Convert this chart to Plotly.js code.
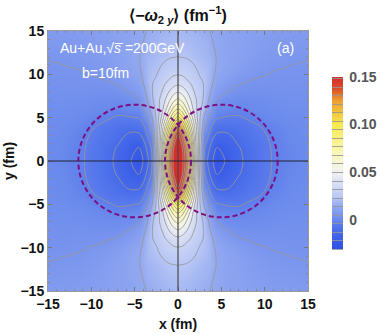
<!DOCTYPE html>
<html>
<head>
<meta charset="utf-8">
<script src="https://cdn.plot.ly/plotly-3.0.1.min.js"></script>
<style>html,body{margin:0;padding:0;background:#fff}</style>
</head>
<body>
<div id="chart" style="width:382px;height:335px"></div>
<script>
//Grid, upper right quadrant (the plot is mirrored in x and y)
var xPos = [0, 0.5, 1, 1.5, 2, 2.5, 3, 3.5, 4, 4.5, 5.5, 7, 9, 11, 13, 15];
var yPos = [0, 1.5, 3, 4, 5, 6, 7, 8, 9, 10, 11, 12, 13.5, 15];
var zQuad = [
  [.157, .152, .132, .105, .06, .02, -.004, -.015, -.0215, -.0265, -.0215, -.0145, -.0085, -.0035, -.001, 0],
  [.155, .149, .125, .095, .055, .022, -.0025, -.011, -.017, -.0225, -.0195, -.0135, -.008, -.0033, -.0005, .0005],
  [.152, .134, .105, .08, .05, .024, .002, -.003, -.011, -.0145, -.0145, -.0105, -.0065, -.0025, 0, .001],
  [.128, .11, .09, .068, .046, .024, .0085, .001, -.0055, -.0085, -.0095, -.0085, -.0048, -.0015, .0005, .0012],
  [.099, .088, .073, .056, .039, .024, .0135, .0055, .0005, -.0035, -.0045, -.0048, -.002, 0, .001, .0015],
  [.077, .071, .059, .046, .035, .0255, .0185, .0105, .0045, .0005, -.0005, -.0015, 0, .001, .002, .002],
  [.062, .057, .049, .041, .034, .027, .0215, .0145, .0085, .005, .002, .001, .0012, .002, .0025, .0025],
  [.049, .0465, .0415, .036, .0305, .027, .0225, .017, .011, .0085, .0055, .003, .0025, .003, .003, .003],
  [.0385, .037, .034, .0315, .028, .025, .0225, .019, .014, .0108, .0085, .0055, .004, .0038, .0035, .0035],
  [.0315, .031, .0295, .0275, .0255, .0225, .0215, .0195, .015, .0128, .0108, .008, .0058, .0047, .004, .004],
  [.027, .0265, .0255, .0245, .0228, .0212, .0202, .019, .0155, .0135, .0118, .0095, .007, .0056, .005, .0045],
  [.0231, .0228, .0225, .0215, .0205, .0195, .0185, .0175, .0155, .0136, .012, .0102, .008, .0065, .0058, .0053],
  [.021, .0205, .02, .0195, .0185, .0178, .0172, .0165, .0142, .013, .012, .0108, .009, .0075, .0068, .0065],
  [.0187, .0185, .018, .0175, .017, .016, .0155, .0145, .0132, .0125, .0115, .0105, .0095, .0085, .0078, .0075]
];
var barTicks = [0, 0.05, 0.10, 0.15];
var barLabels = ["0", "0.05", "0.10", "0.15"];
var axisTicks = [-15, -10, -5, 0, 5, 10, 15];
var axisLabels = ["\u221215", "\u221210", "\u22125", "0", "5", "10", "15"];

function mirrorPos(a){
  return a.slice(1).reverse().map(function(v){ return -v; }).concat(a);
}
function mirrorRows(a){
  return a.slice(1).reverse().concat(a);
}
var xAll = mirrorPos(xPos);
var yAll = mirrorPos(yPos);
var zAll = mirrorRows(zQuad.map(mirrorRows));

var bold = {family: "Liberation Sans", size: 14, color: "#111", weight: 700};

var trace = {
  type: "contour",
  x: xAll,
  y: yAll,
  z: zAll,
  zauto: false,
  zmin: -0.031,
  zmax: 0.15,
  colorscale: [
    [0, "#2f50e8"],
    [0.05, "#3a5ce8"],
    [0.099, "#466aea"],
    [0.149, "#5c7cec"],
    [0.171, "#6a8aec"],
    [0.199, "#7a95ee"],
    [0.249, "#93a9f0"],
    [0.298, "#b8c6f5"],
    [0.448, "#f2f2f2"],
    [0.558, "#fbf7b8"],
    [0.724, "#f8e94f"],
    [0.862, "#eba033"],
    [0.934, "#dc4a2a"],
    [1, "#d62c2a"]
  ],
  contours: {coloring: "heatmap", start: -0.031, end: 0.149, size: 0.009},
  line: {color: "rgba(150,150,150,0.85)", width: 1, smoothing: 1},
  hoverinfo: "skip",
  colorbar: {
    x: 1.092, xanchor: "left", xpad: 0,
    y: 0.492, yanchor: "middle", ypad: 0,
    thickness: 11, thicknessmode: "pixels",
    len: 172, lenmode: "pixels",
    outlinewidth: 0,
    tickmode: "array", tickvals: barTicks, ticktext: barLabels,
    ticks: "outside", ticklen: 4, tickcolor: "rgba(0,0,0,0)",
    tickfont: {family: "Liberation Sans", size: 14, color: "#555", weight: 700}
  }
};

var layout = {
  width: 382,
  height: 335,
  margin: {l: 48, r: 74, t: 31, b: 44, autoexpand: false},
  paper_bgcolor: "#fff",
  showlegend: false,
  title: {
    text: "<b>\u27e8\u2212<i>\u03c9</i><sub>2 <i>y</i></sub>\u27e9 (fm<sup>\u22121</sup>)</b>",
    font: {family: "Liberation Sans", size: 16, color: "#111"},
    x: 178 / 382, xanchor: "center", y: 0.955, yanchor: "middle"
  },
  xaxis: {
    range: [-15, 15],
    tickmode: "array", tickvals: axisTicks, ticktext: axisLabels,
    ticks: "inside", ticklen: 4, tickcolor: "#777", tickwidth: 1,
    minor: {dtick: 1, ticks: "inside", ticklen: 2, tickcolor: "#888", showgrid: false},
    showgrid: false, zeroline: false,
    showline: true, linecolor: "#999", linewidth: 1, mirror: "allticks",
    tickfont: bold,
    title: {text: "<b>x (fm)</b>", font: bold, standoff: 8}
  },
  yaxis: {
    range: [-15, 15],
    tickmode: "array", tickvals: axisTicks, ticktext: axisLabels,
    ticks: "inside", ticklen: 4, tickcolor: "#777", tickwidth: 1,
    minor: {dtick: 1, ticks: "inside", ticklen: 2, tickcolor: "#888", showgrid: false},
    showgrid: false, zeroline: false,
    showline: true, linecolor: "#999", linewidth: 1, mirror: "allticks",
    tickfont: bold,
    title: {text: "<b>y (fm)</b>", font: bold, standoff: 2}
  },
  shapes: [
    {type: "line", xref: "x", yref: "y", x0: 0, x1: 0, y0: -15, y1: 15, line: {color: "rgba(70,70,70,0.6)", width: 2}},
    {type: "line", xref: "x", yref: "y", x0: -15, x1: 15, y0: 0, y1: 0, line: {color: "#223", width: 1}},
    {type: "circle", xref: "x", yref: "y", x0: -11.5, x1: 1.5, y0: -6.5, y1: 6.5, line: {color: "#7f0f80", width: 2, dash: "5px,3px"}},
    {type: "circle", xref: "x", yref: "y", x0: -1.5, x1: 11.5, y0: -6.5, y1: 6.5, line: {color: "#7f0f80", width: 2, dash: "5px,3px"}}
  ],
  annotations: [
    {xref: "x", yref: "y", x: -13.8, y: 13, xanchor: "left", yanchor: "middle", showarrow: false,
      text: "Au+Au,\u221a<i>s\u0305</i> =200GeV", font: {family: "Liberation Sans", size: 14, color: "#fff"}},
    {xref: "x", yref: "y", x: -11.3, y: 10.1, xanchor: "left", yanchor: "middle", showarrow: false,
      text: "b=10fm", font: {family: "Liberation Sans", size: 14, color: "#fff"}},
    {xref: "x", yref: "y", x: 12.4, y: 13, xanchor: "center", yanchor: "middle", showarrow: false,
      text: "(a)", font: {family: "Liberation Sans", size: 14, color: "#fff"}}
  ]
};

Plotly.newPlot("chart", [trace], layout, {displayModeBar: false});
</script>
</body>
</html>
